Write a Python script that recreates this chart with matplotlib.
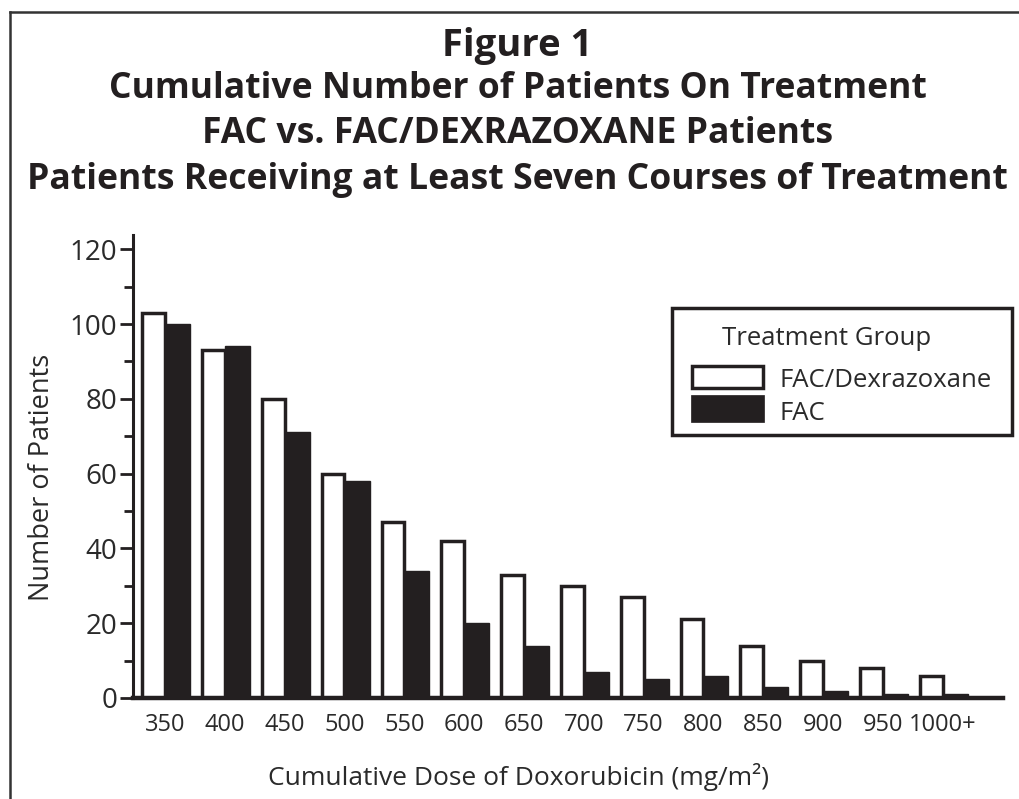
import matplotlib
matplotlib.use("Agg")
import matplotlib.pyplot as plt
from matplotlib.lines import Line2D
from matplotlib.patches import Rectangle
import numpy as np

plt.rcParams['font.family'] = ['Open Sans', 'DejaVu Sans']

categories = ["350", "400", "450", "500", "550", "600", "650", "700",
              "750", "800", "850", "900", "950", "1000+"]
fac_dex = [103, 93, 80, 60, 47, 42, 33, 30, 27, 21, 14, 10, 8, 6]
fac = [100, 94, 71, 58, 34, 20, 14, 7, 5, 6, 3, 2, 1, 1]
series_names = ["FAC/Dexrazoxane", "FAC"]
legend_title = "Treatment Group"

title_lines = ["Figure 1",
               "Cumulative Number of Patients On Treatment",
               "FAC vs. FAC/DEXRAZOXANE Patients",
               "Patients Receiving at Least Seven Courses of Treatment"]

W, H = 1019, 799


def fx(px):
    return px / W


def fy(py):
    return 1 - py / H


fig = plt.figure(figsize=(W / 100, H / 100), dpi=100)
ax = fig.add_axes([fx(133), fy(698), 870 / W, 463 / H])

ink = '#231f20'
txt = '#2a2a2a'
x = np.arange(len(categories))
ax.bar(x, fac_dex, width=-0.38, align='edge', facecolor='white',
       edgecolor=ink, linewidth=2.5, label=series_names[0], zorder=2)
ax.bar(x, fac, width=0.42, align='edge', facecolor=ink,
       edgecolor=ink, linewidth=1.0, label=series_names[1], zorder=2)

ax.set_xlim(-0.535, 14.01)
ax.set_ylim(0, 123.8)
ax.set_yticks(np.arange(0, 121, 20))
ax.set_yticks(np.arange(10, 120, 20), minor=True)
ax.set_xticks(x)
ax.set_xticklabels(categories)

for s in ['top', 'right']:
    ax.spines[s].set_visible(False)
ax.spines['left'].set_linewidth(2.2)
ax.spines['bottom'].set_linewidth(3.2)
ax.spines['left'].set_color(ink)
ax.spines['bottom'].set_color(ink)

ax.tick_params(axis='y', which='major', length=9.5, width=2.0, colors=ink,
               labelsize=20, pad=2, labelcolor=txt)
ax.tick_params(axis='y', which='minor', length=6.5, width=2.0, colors=ink)
ax.tick_params(axis='x', length=0, labelsize=17, pad=11, labelcolor=txt)

fig.text(fx(42), fy(477), "Number of Patients", rotation=90,
         ha='center', va='center', fontsize=19.5, color=txt)
fig.text(fx(519), fy(777), "Cumulative Dose of Doxorubicin (mg/m²)",
         ha='center', va='center', fontsize=19, color=txt)

# legend box (drawn in figure pixel layout)
fig.add_artist(Rectangle((fx(672), fy(435)), fx(1012) - fx(672),
                         fy(308) - fy(435), transform=fig.transFigure,
                         facecolor='white', edgecolor=ink, linewidth=2.5))
fig.text(fx(827), fy(345), legend_title, ha='center', va='baseline',
         fontsize=18.5, color=txt)
fig.add_artist(Rectangle((fx(692), fy(388)), fx(763) - fx(692),
                         fy(366) - fy(388), transform=fig.transFigure,
                         facecolor='white', edgecolor=ink, linewidth=2.5))
fig.add_artist(Rectangle((fx(691), fy(422)), fx(764) - fx(691),
                         fy(395) - fy(422), transform=fig.transFigure,
                         facecolor=ink, edgecolor=ink, linewidth=0.5))
fig.text(fx(779), fy(387), series_names[0], ha='left', va='baseline',
         fontsize=18.5, color=txt)
fig.text(fx(779), fy(420), series_names[1], ha='left', va='baseline',
         fontsize=18.5, color=txt)

ys = [46, 89, 134, 180]
sizes = [27.5, 25.6, 25.6, 25.6]
for line, yy, fs in zip(title_lines, ys, sizes):
    fig.text(0.5 + 8 / W, fy(yy), line, ha='center', va='center',
             fontsize=fs, fontweight='bold', color=ink)

# outer border (cropped at right and bottom)
fig.add_artist(Line2D([fx(10), 1.0], [fy(12), fy(12)],
                      transform=fig.transFigure, color='#333333', linewidth=1.8))
fig.add_artist(Line2D([fx(10), fx(10)], [fy(12), 0.0],
                      transform=fig.transFigure, color='#333333', linewidth=1.8))

fig.savefig("out.png", dpi=100, facecolor='white')
